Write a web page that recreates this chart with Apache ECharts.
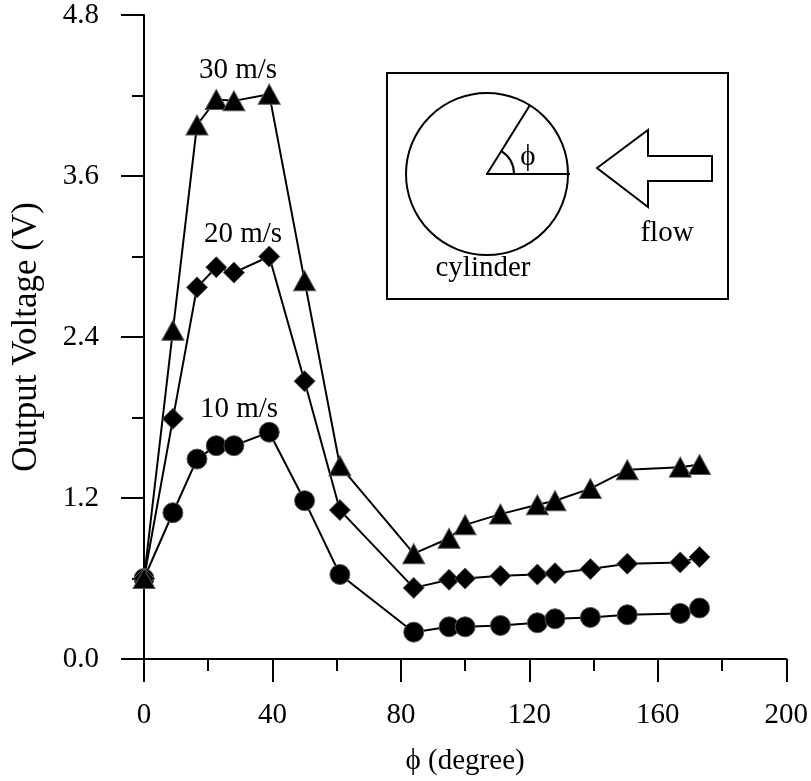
<!DOCTYPE html>
<html>
<head>
<meta charset="utf-8">
<script src="https://cdn.jsdelivr.net/npm/echarts@6/dist/echarts.min.js"></script>
<style>
  html, body { margin: 0; padding: 0; background: #fff; }
  #chart { width: 811px; height: 781px; }
</style>
</head>
<body>
<div id="chart"></div>
<script>
// angle of the sensor (degree), same for all three speeds
var angles = [0, 9, 16.5, 22.5, 28, 39, 50, 61, 84, 95, 100, 111, 122.5, 128, 139, 150.5, 167, 173];
// output voltage (V)
var v10 = [0.6, 1.09, 1.49, 1.59, 1.59, 1.69, 1.18, 0.63, 0.2, 0.24, 0.24, 0.25, 0.27, 0.3, 0.31, 0.33, 0.34, 0.38];
var v20 = [0.6, 1.79, 2.77, 2.92, 2.88, 3.0, 2.07, 1.11, 0.53, 0.59, 0.6, 0.62, 0.63, 0.64, 0.67, 0.71, 0.72, 0.76];
var v30 = [0.6, 2.45, 3.98, 4.17, 4.16, 4.21, 2.82, 1.44, 0.785, 0.9, 1.0, 1.08, 1.15, 1.18, 1.27, 1.41, 1.43, 1.45];
var speedNames = ["10 m/s", "20 m/s", "30 m/s"];
var xTicks = [0, 40, 80, 120, 160, 200];
var yTicks = [0, 1.2, 2.4, 3.6, 4.8];

var FONT = "Liberation Serif";

function pairs(ys) {
  var out = [];
  for (var i = 0; i < angles.length; i++) {
    out.push([angles[i], ys[i]]);
  }
  return out;
}

function makeSeries(name, ys, symbol, size) {
  return {
    name: name,
    type: "line",
    data: pairs(ys),
    symbol: symbol,
    symbolSize: size,
    showAllSymbol: true,
    animation: false,
    lineStyle: { color: "#000", width: 2 },
    itemStyle: { color: "#000", borderColor: "#555", borderWidth: 1 }
  };
}

function txt(s, x, y) {
  return {
    type: "text",
    x: x,
    y: y,
    style: {
      text: s,
      fill: "#000",
      font: "29px '" + FONT + "'",
      align: "center",
      verticalAlign: "middle"
    }
  };
}

var myChart = echarts.init(document.getElementById("chart"));

var axisLine = { lineStyle: { color: "#000", width: 2 } };
var tick = { show: true, length: 23, lineStyle: { color: "#000", width: 2 } };
var minor = { show: true, splitNumber: 2, length: 12, lineStyle: { color: "#000", width: 2 } };

var option = {
  backgroundColor: "#fff",
  animation: false,
  grid: { left: 144, right: 17, top: 15, bottom: 118 },
  xAxis: {
    type: "value",
    min: xTicks[0],
    max: xTicks[xTicks.length - 1],
    interval: 40,
    name: "\u03d5 (degree)",
    nameLocation: "middle",
    nameGap: 88,
    nameTextStyle: { fontFamily: FONT, fontSize: 29, color: "#000" },
    axisLine: axisLine,
    axisTick: tick,
    minorTick: minor,
    splitLine: { show: false },
    axisLabel: { fontFamily: FONT, fontSize: 29, color: "#000", margin: 42 }
  },
  yAxis: {
    type: "value",
    min: yTicks[0],
    max: yTicks[yTicks.length - 1],
    interval: 1.2,
    name: "Output Voltage (V)",
    nameLocation: "middle",
    nameGap: 100,
    nameTextStyle: { fontFamily: FONT, fontSize: 35, color: "#000" },
    axisLine: axisLine,
    axisTick: tick,
    minorTick: minor,
    splitLine: { show: false },
    axisLabel: {
      fontFamily: FONT, fontSize: 29, color: "#000", margin: 45,
      formatter: function (v) { return v.toFixed(1); }
    }
  },
  series: [
    makeSeries(speedNames[0], v10, "circle", 20),
    makeSeries(speedNames[1], v20, "diamond", 21),
    makeSeries(speedNames[2], v30, "triangle", [22, 20])
  ],
  graphic: [
    // speed labels
    txt(speedNames[2], 238, 70),
    txt(speedNames[1], 243, 234),
    txt(speedNames[0], 239, 409),
    // inset sketch: cylinder and flow direction
    {
      type: "group",
      children: [
        { type: "rect", shape: { x: 387, y: 73, width: 341, height: 226 },
          style: { fill: "#fff", stroke: "#000", lineWidth: 2 } },
        { type: "circle", shape: { cx: 487, cy: 174, r: 81 },
          style: { fill: "none", stroke: "#000", lineWidth: 2 } },
        { type: "line", shape: { x1: 487, y1: 174, x2: 530, y2: 105 },
          style: { stroke: "#000", lineWidth: 2 } },
        { type: "line", shape: { x1: 486, y1: 174, x2: 570, y2: 174 },
          style: { stroke: "#000", lineWidth: 2 } },
        { type: "arc", shape: { cx: 487, cy: 174, r: 27, startAngle: -1.01, endAngle: 0, clockwise: true },
          style: { fill: "none", stroke: "#000", lineWidth: 2 } },
        { type: "polygon",
          shape: { points: [[597, 168], [648, 130], [648, 156], [712, 156], [712, 181], [648, 181], [648, 207]] },
          style: { fill: "none", stroke: "#000", lineWidth: 2 } },
        txt("\u03d5", 528, 157),
        txt("flow", 667, 233),
        txt("cylinder", 483, 268)
      ]
    }
  ]
};

myChart.setOption(option);
</script>
</body>
</html>
